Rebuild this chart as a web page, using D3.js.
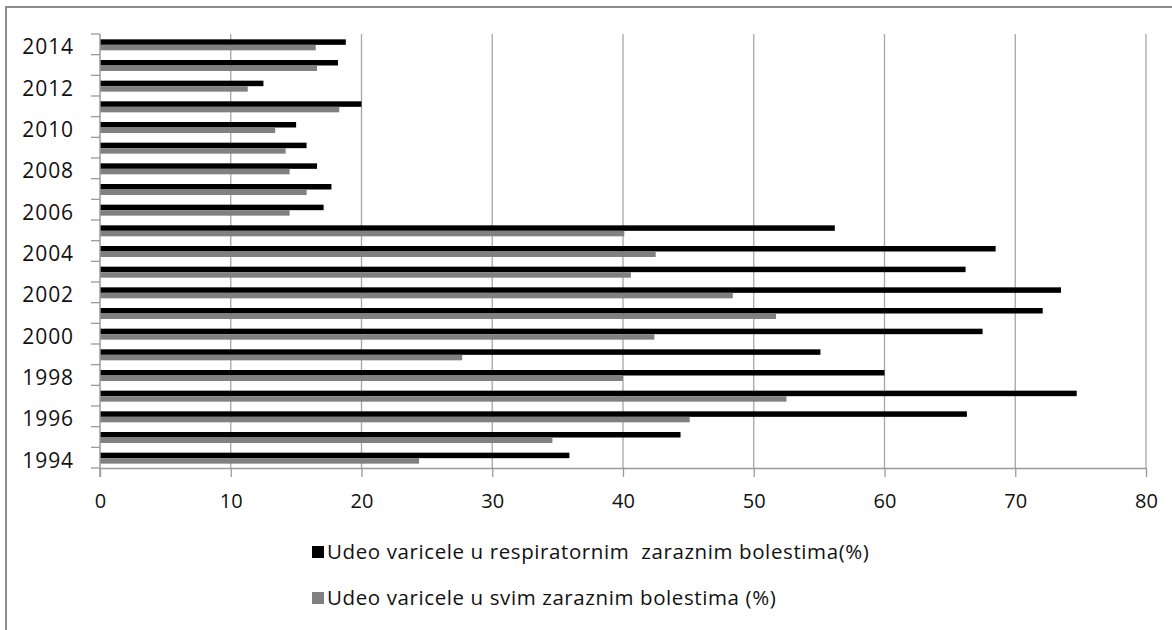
<!DOCTYPE html>
<html lang="sr">
<head>
<meta charset="UTF-8">
<title>Udeo varicele</title>
<script src="https://d3js.org/d3.v7.min.js"></script>
<style>
  body { margin: 0; background: #fff; font-family: "Open Sans", "DejaVu Sans", sans-serif; }
  svg text { fill: #111; }
</style>
</head>
<body>
<div id="chart"></div>
<script>
// years, bottom to top
var years = [1994, 1995, 1996, 1997, 1998, 1999, 2000, 2001, 2002, 2003, 2004,
             2005, 2006, 2007, 2008, 2009, 2010, 2011, 2012, 2013, 2014];
// share of varicella in respiratory infectious diseases (%)
var respiratory = [35.9, 44.4, 66.3, 74.7, 60.0, 55.1, 67.5, 72.1, 73.5, 66.2, 68.5,
                   56.2, 17.1, 17.7, 16.6, 15.8, 15.0, 20.0, 12.5, 18.2, 18.8];
// share of varicella in all infectious diseases (%)
var allDiseases = [24.4, 34.6, 45.1, 52.5, 40.0, 27.7, 42.4, 51.7, 48.4, 40.6, 42.5,
                   40.1, 14.5, 15.8, 14.5, 14.2, 13.4, 18.3, 11.3, 16.6, 16.5];
var yearLabels = [1994, 1996, 1998, 2000, 2002, 2004, 2006, 2008, 2010, 2012, 2014];
var xTicks = [0, 10, 20, 30, 40, 50, 60, 70, 80];
var seriesNames = ["Udeo varicele u respiratornim  zaraznim bolestima(%)",
                   "Udeo varicele u svim zaraznim bolestima (%)"];

var width = 1172, height = 630;
var plotLeft = 100, plotRight = 1146, plotTop = 34, plotBottom = 468;

var svg = d3.select("#chart").append("svg")
    .attr("width", width)
    .attr("height", height);

// outer frame (only top and left edges fall inside the picture)
svg.append("rect")
    .attr("x", 6).attr("y", 7)
    .attr("width", width + 20).attr("height", height + 20)
    .attr("fill", "none")
    .attr("stroke", "#8c8c8c")
    .attr("stroke-width", 2);

var x = d3.scaleLinear().domain([0, 80]).range([plotLeft, plotRight]);

var y = d3.scaleBand()
    .domain(years.slice().reverse())
    .range([plotTop, plotBottom])
    .padding(0);

var inner = d3.scaleBand()
    .domain([0, 1])
    .range([0, y.bandwidth()])
    .paddingInner(0)
    .paddingOuter(0.88);

var colors = ["#000000", "#808080"];

// vertical gridlines
svg.append("g").selectAll("line")
    .data(xTicks.slice(1))
    .enter().append("line")
    .attr("x1", function(d) { return x(d); })
    .attr("x2", function(d) { return x(d); })
    .attr("y1", plotTop)
    .attr("y2", plotBottom)
    .attr("stroke", "#a6a6a6")
    .attr("stroke-width", 1.3);

// bars
var rows = years.map(function(yr, i) {
  return { year: yr, values: [respiratory[i], allDiseases[i]] };
});

var grp = svg.append("g").selectAll("g")
    .data(rows)
    .enter().append("g")
    .attr("transform", function(d) { return "translate(0," + y(d.year) + ")"; });

grp.selectAll("rect")
    .data(function(d) { return d.values.map(function(v, k) { return { k: k, v: v }; }); })
    .enter().append("rect")
    .attr("x", x(0))
    .attr("y", function(d) { return inner(d.k) + 0.5; })
    .attr("width", function(d) { return x(d.v) - x(0); })
    .attr("height", inner.bandwidth())
    .attr("fill", function(d) { return colors[d.k]; });

// x axis
var xAxis = svg.append("g")
    .attr("transform", "translate(0," + plotBottom + ")")
    .call(d3.axisBottom(x).tickValues(xTicks).tickSize(9).tickPadding(17).tickSizeOuter(0));
xAxis.select(".domain").attr("stroke", "#9a9a9a").attr("stroke-width", 1.5);
xAxis.selectAll(".tick line").attr("stroke", "#9a9a9a").attr("stroke-width", 1.3);
xAxis.selectAll(".tick text")
    .style("font-family", "'Open Sans', sans-serif")
    .style("font-size", "20px")
    .attr("fill", "#111");

// y axis: line, ticks at category boundaries, labels every other year
var yAxis = svg.append("g");
yAxis.append("line")
    .attr("x1", plotLeft).attr("x2", plotLeft)
    .attr("y1", plotTop).attr("y2", plotBottom + 9)
    .attr("stroke", "#9a9a9a").attr("stroke-width", 1.5);

var bounds = years.map(function(yr) { return y(yr) + y.bandwidth(); }).concat([plotTop]);
yAxis.selectAll(".ytick")
    .data(bounds)
    .enter().append("line")
    .attr("class", "ytick")
    .attr("x1", plotLeft - 9).attr("x2", plotLeft)
    .attr("y1", function(d) { return d; })
    .attr("y2", function(d) { return d; })
    .attr("stroke", "#9a9a9a").attr("stroke-width", 1.3);

yAxis.selectAll(".ylabel")
    .data(yearLabels)
    .enter().append("text")
    .attr("class", "ylabel")
    .attr("x", 74)
    .attr("y", function(d) { return y(d) + y.bandwidth() / 2 + 2.5; })
    .attr("dy", "0.35em")
    .attr("text-anchor", "end")
    .style("font-size", "21px")
    .style("letter-spacing", "0.9px")
    .text(function(d) { return d; });

// legend
var legend = svg.append("g").selectAll("g")
    .data(seriesNames)
    .enter().append("g")
    .attr("transform", function(d, i) { return "translate(312," + (546 + i * 46) + ")"; });

legend.append("rect")
    .attr("width", 12).attr("height", 12)
    .attr("fill", function(d, i) { return colors[i]; });

legend.append("text")
    .attr("x", 15)
    .attr("y", 6)
    .attr("dy", "0.35em")
    .style("font-size", "20.5px")
    .style("letter-spacing", "0.6px")
    .style("white-space", "pre")
    .text(function(d) { return d; });
</script>
</body>
</html>
